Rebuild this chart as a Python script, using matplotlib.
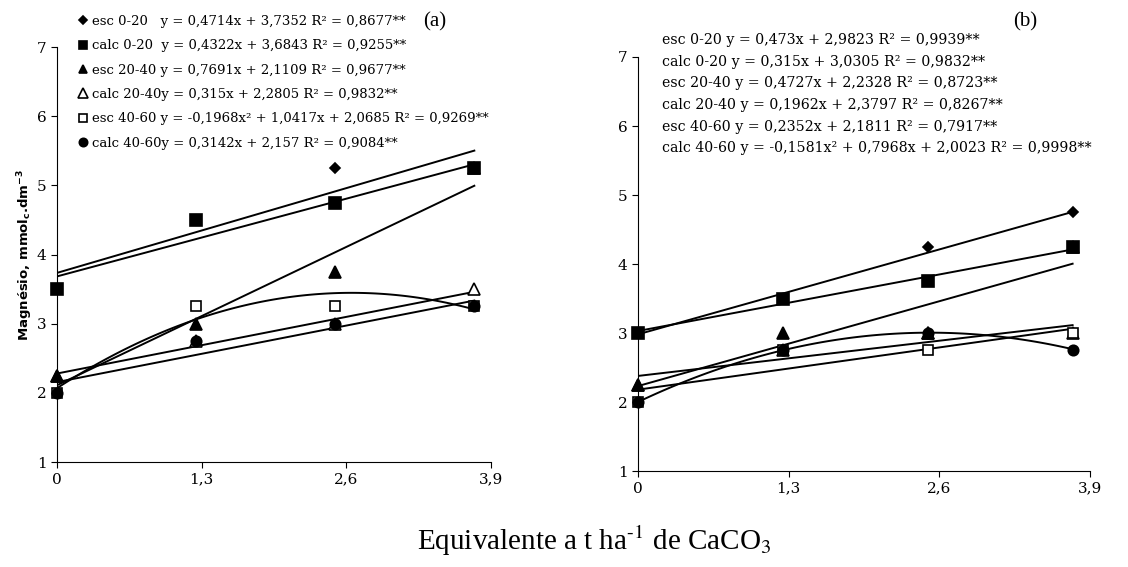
import numpy as np
import matplotlib.pyplot as plt

# doses (t/ha CaCO3 equivalent)
doses = [0, 1.25, 2.5, 3.75]

series_names = ['esc 0-20', 'calc 0-20', 'esc 20-40', 'calc 20-40', 'esc 40-60', 'calc 40-60']

# Mg values, panel (a)
mg_a = {
    'esc 0-20': [3.5, 4.5, 5.25, 5.25],
    'calc 0-20': [3.5, 4.5, 4.75, 5.25],
    'esc 20-40': [2.25, 3.0, 3.75, 5.25],
    'calc 20-40': [2.25, 2.75, 3.0, 3.5],
    'esc 40-60': [2.0, 3.25, 3.25, 3.25],
    'calc 40-60': [2.0, 2.75, 3.0, 3.25],
}
# panel (b)
mg_b = {
    'esc 0-20': [3.0, 3.5, 4.25, 4.75],
    'calc 0-20': [3.0, 3.5, 3.75, 4.25],
    'esc 20-40': [2.25, 3.0, 3.0, 4.25],
    'calc 20-40': [2.25, 2.75, 3.0, 3.0],
    'esc 40-60': [2.0, 2.75, 2.75, 3.0],
    'calc 40-60': [2.0, 2.75, 3.0, 2.75],
}

# trendline coefficients as printed (highest power first)
coef_a = {
    'esc 0-20': [0.4714, 3.7352],
    'calc 0-20': [0.4322, 3.6843],
    'esc 20-40': [0.7691, 2.1109],
    'calc 20-40': [0.315, 2.2805],
    'esc 40-60': [-0.1968, 1.0417, 2.0685],
    'calc 40-60': [0.3142, 2.157],
}
coef_b = {
    'esc 0-20': [0.473, 2.9823],
    'calc 0-20': [0.315, 3.0305],
    'esc 20-40': [0.4727, 2.2328],
    'calc 20-40': [0.1962, 2.3797],
    'esc 40-60': [0.2352, 2.1811],
    'calc 40-60': [-0.1581, 0.7968, 2.0023],
}

eq_a = [
    'esc 0-20   y = 0,4714x + 3,7352 R² = 0,8677**',
    'calc 0-20  y = 0,4322x + 3,6843 R² = 0,9255**',
    'esc 20-40 y = 0,7691x + 2,1109 R² = 0,9677**',
    'calc 20-40y = 0,315x + 2,2805 R² = 0,9832**',
    'esc 40-60 y = -0,1968x² + 1,0417x + 2,0685 R² = 0,9269**',
    'calc 40-60y = 0,3142x + 2,157 R² = 0,9084**',
]
eq_b = [
    'esc 0-20 y = 0,473x + 2,9823 R² = 0,9939**',
    'calc 0-20 y = 0,315x + 3,0305 R² = 0,9832**',
    'esc 20-40 y = 0,4727x + 2,2328 R² = 0,8723**',
    'calc 20-40 y = 0,1962x + 2,3797 R² = 0,8267**',
    'esc 40-60 y = 0,2352x + 2,1811 R² = 0,7917**',
    'calc 40-60 y = -0,1581x² + 0,7968x + 2,0023 R² = 0,9998**',
]

xticks = [0, 1.3, 2.6, 3.9]
xticklabels = ['0', '1,3', '2,6', '3,9']

styles = {
    'esc 0-20': dict(marker='D', ms=5.5, mfc='black'),
    'calc 0-20': dict(marker='s', ms=8, mfc='black'),
    'esc 20-40': dict(marker='^', ms=8, mfc='black'),
    'calc 20-40': dict(marker='^', ms=9, mfc='white'),
    'esc 40-60': dict(marker='s', ms=7.5, mfc='white'),
    'calc 40-60': dict(marker='o', ms=7.5, mfc='black'),
}
draw_order = ['calc 20-40', 'esc 20-40', 'esc 0-20', 'calc 0-20', 'esc 40-60', 'calc 40-60']

serif = 'DejaVu Serif'

fig = plt.figure(figsize=(11.28, 5.67), dpi=100)
ax_a = fig.add_axes([0.0505, 0.185, 0.3848, 0.732])
ax_b = fig.add_axes([0.5656, 0.169, 0.4007, 0.7305])


def draw_panel(ax, mg, coefs):
    handles = {}
    xs = np.linspace(doses[0], doses[-1], 120)
    for name in series_names:
        ax.plot(xs, np.polyval(coefs[name], xs), color='black', lw=1.4, zorder=2)
    for i, name in enumerate(draw_order):
        st = styles[name]
        h, = ax.plot(doses, mg[name], ls='none', marker=st['marker'], ms=st['ms'],
                     mfc=st['mfc'], mec='black', mew=1.2, clip_on=False, zorder=3 + i)
        handles[name] = h
    ax.set_xlim(0, 3.9)
    ax.set_ylim(1, 7)
    ax.set_xticks(xticks)
    ax.set_xticklabels(xticklabels)
    ax.set_yticks(range(1, 8))
    for s in ['top', 'right']:
        ax.spines[s].set_visible(False)
    ax.tick_params(direction='out', length=4, labelsize=11)
    for lab in ax.get_xticklabels() + ax.get_yticklabels():
        lab.set_family(serif)
    return handles


h_a = draw_panel(ax_a, mg_a, coef_a)
draw_panel(ax_b, mg_b, coef_b)

ax_a.legend([h_a[n] for n in series_names], eq_a, loc='upper left',
            bbox_to_anchor=(0.035, 1.09), frameon=False, handlelength=0.8,
            handletextpad=0.3, labelspacing=0.86, borderaxespad=0,
            markerscale=0.8, prop={'family': serif, 'size': 9.5})

for i, txt in enumerate(eq_b):
    ax_b.text(0.053, 1.04 - i * 0.052, txt, transform=ax_b.transAxes,
              family=serif, fontsize=10.2, va='center', ha='left')

fig.text(0.385, 0.962, '(a)', family='Liberation Serif', fontsize=15, ha='center', va='center')
fig.text(0.909, 0.962, '(b)', family='Liberation Serif', fontsize=15, ha='center', va='center')

ax_a.set_ylabel('Magnésio, mmol$_\\mathbf{c}$.dm$^{\\mathbf{-3}}$', fontsize=9.5,
                fontweight='bold', family='Liberation Sans Narrow', labelpad=1)

fig.text(0.527, 0.047, 'Equivalente a t ha$^{\\text{-1}}$ de CaCO$_3$', ha='center', va='center',
         family='Liberation Serif', fontsize=21, math_fontfamily='stix')

fig.savefig('out.png', dpi=100)
